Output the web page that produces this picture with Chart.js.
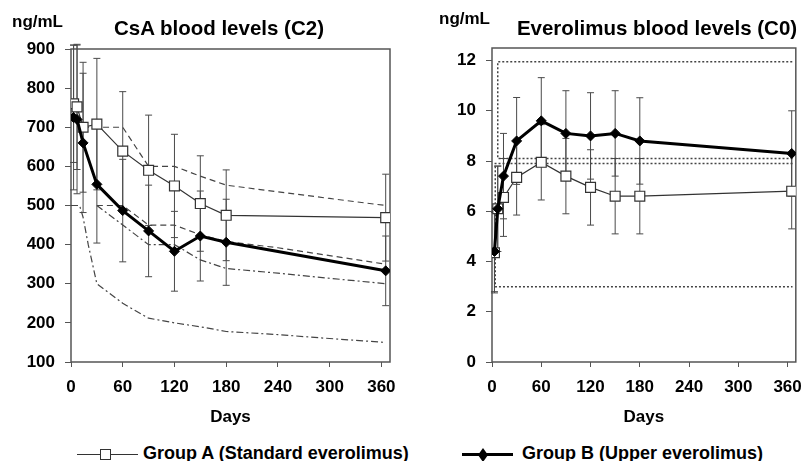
<!DOCTYPE html>
<html>
<head>
<meta charset="utf-8">
<script src="https://cdn.jsdelivr.net/npm/chart.js@4.4.1/dist/chart.umd.min.js"></script>
<style>
html, body { margin: 0; padding: 0; background: #fff; overflow: hidden; }
#wrap { position: relative; width: 812px; height: 461px; font-family: "Liberation Sans", Arial, sans-serif; }
.box { position: absolute; top: 0; width: 406px; height: 430px; }
.lbl { position: absolute; font-weight: bold; color: #000; white-space: nowrap; }
</style>
</head>
<body>
<div id="wrap">
  <div class="box" style="left:0"><canvas id="csaChart" width="406" height="430"></canvas></div>
  <div class="box" style="left:406px"><canvas id="everChart" width="406" height="430"></canvas></div>

  <div class="lbl" style="left:69px;top:16px;width:300px;text-align:center;font-size:20.5px;line-height:24px">CsA blood levels (C2)</div>
  <div class="lbl" style="left:507px;top:16px;width:300px;text-align:center;font-size:20.5px;line-height:24px">Everolimus blood levels (C0)</div>
  <div class="lbl" style="left:12px;top:12px;font-size:17px;line-height:20px">ng/mL</div>
  <div class="lbl" style="left:439px;top:9px;font-size:17px;line-height:20px">ng/mL</div>

  <!-- legend -->
  <div style="position:absolute;left:77px;top:454px;width:61px;border-top:1.2px solid #333"></div>
  <div style="position:absolute;left:100px;top:449px;width:9px;height:9px;border:1.2px solid #333;background:#fff"></div>
  <div class="lbl" style="left:143px;top:443px;font-size:18px;line-height:20px">Group A (Standard everolimus)</div>
  <div style="position:absolute;left:462px;top:453px;width:51px;border-top:3px solid #000"></div>
  <div style="position:absolute;left:478px;top:448px;width:10px;height:14px;background:#000;clip-path:polygon(50% 0,100% 50%,50% 100%,0 50%)"></div>
  <div class="lbl" style="left:522px;top:443px;font-size:18px;line-height:20px">Group B (Upper everolimus)</div>
</div>

<script>
Chart.defaults.font.family = '"Liberation Sans", Arial, sans-serif';
Chart.defaults.color = '#000';

// visit days
var days = [3, 7, 14, 30, 60, 90, 120, 150, 180, 365];

// CsA C2 (ng/mL), mean and SD
var csaA = [760, 752, 700, 708, 639, 590, 550, 505, 475, 469];
var csaASd = [150, 160, 166, 168, 152, 141, 132, 122, 116, 111];
var csaB = [725, 720, 660, 554, 487, 435, 383, 422, 406, 333];
var csaBSd = [185, 190, 178, 150, 131, 117, 102, 115, 110, 89];

// CsA target ranges
var csaHiDays = [14, 60, 90, 120, 150, 180, 240, 300, 365];
var csaHiVals = [700, 700, 600, 600, 575, 552, 535, 518, 500];
var csaLoDays = [30, 60, 90, 120, 150, 180, 240, 300, 365];
var csaLoVals = [500, 500, 450, 450, 425, 408, 392, 372, 350];
var csaRedHiDays = [30, 60, 90, 120, 150, 180, 240, 300, 365];
var csaRedHiVals = [500, 450, 400, 400, 361, 339, 327, 314, 300];
var csaRedLoDays = [0, 10, 14, 20, 30, 60, 90, 120, 150, 180, 240, 300, 365];
var csaRedLoVals = [500, 500, 470, 400, 300, 250, 212, 200, 190, 178, 170, 160, 150];

// everolimus C0 (ng/mL), mean and SD
var everA = [4.35, 6.1, 6.55, 7.35, 7.95, 7.4, 6.95, 6.6, 6.6, 6.8];
var everASd = [1.6, 1.7, 1.55, 1.5, 1.5, 1.5, 1.5, 1.5, 1.5, 1.5];
var everB = [4.4, 6.1, 7.4, 8.8, 9.6, 9.1, 9.0, 9.1, 8.8, 8.3];
var everBSd = [1.6, 1.7, 1.7, 1.73, 1.72, 1.7, 1.72, 1.7, 1.72, 1.7];

// everolimus target ranges
var everTargetADays = [366, 4, 4, 366];
var everTargetAVals = [7.9, 7.9, 3.0, 3.0];
var everTargetBDays = [366, 7, 7, 366];
var everTargetBVals = [8.1, 8.1, 11.95, 11.95];

var xTicks = [0, 60, 120, 180, 240, 300, 360];
var csaYTicks = [100, 200, 300, 400, 500, 600, 700, 800, 900];
var everYTicks = [0, 2, 4, 6, 8, 10, 12];

function pts(xs, ys) {
  return xs.map(function (x, i) { return { x: x, y: ys[i] }; });
}

var errorBars = {
  id: 'errorBars',
  beforeDatasetsDraw: function (chart) {
    var ctx = chart.ctx, xs = chart.scales.x, ys = chart.scales.y;
    chart.data.datasets.forEach(function (ds) {
      if (!ds.sd) return;
      ctx.save();
      ctx.strokeStyle = '#4a4a4a';
      ctx.lineWidth = 1;
      ds.data.forEach(function (p, i) {
        var x = xs.getPixelForValue(p.x);
        var top = ys.getPixelForValue(p.y + ds.sd[i]);
        var bot = ys.getPixelForValue(p.y - ds.sd[i]);
        ctx.beginPath();
        ctx.moveTo(x, top); ctx.lineTo(x, bot);
        ctx.moveTo(x - 3.5, top); ctx.lineTo(x + 3.5, top);
        ctx.moveTo(x - 3.5, bot); ctx.lineTo(x + 3.5, bot);
        ctx.stroke();
      });
      ctx.restore();
    });
  }
};

var frame = {
  id: 'frame',
  beforeDatasetsDraw: function (chart) {
    var a = chart.chartArea, ctx = chart.ctx;
    ctx.save();
    ctx.strokeStyle = '#555';
    ctx.lineWidth = 1.5;
    ctx.strokeRect(a.left, a.top, a.right - a.left, a.bottom - a.top);
    ctx.restore();
  }
};

function groupA(vals, sd) {
  return {
    data: pts(days, vals), sd: sd,
    borderColor: '#333', borderWidth: 1.2,
    pointStyle: 'rect', pointRadius: 7, pointBorderWidth: 1.2,
    pointBackgroundColor: '#fff', pointBorderColor: '#333'
  };
}
function groupB(vals, sd) {
  return {
    data: pts(days, vals), sd: sd,
    borderColor: '#000', borderWidth: 3,
    pointStyle: 'rectRot', pointRadius: 5,
    pointBackgroundColor: '#000', pointBorderColor: '#000', pointBorderWidth: 1
  };
}
function refLine(xs, ys, dash, width) {
  return {
    data: pts(xs, ys), borderColor: '#444', borderWidth: width,
    borderDash: dash, pointRadius: 0, tension: 0
  };
}

function makeOptions(yMin, yMax, yTickList, yWidth, pad) {
  return {
    responsive: false,
    animation: false,
    events: [],
    layout: { padding: pad },
    plugins: { legend: { display: false }, tooltip: { enabled: false }, title: { display: false } },
    scales: {
      x: {
        type: 'linear', min: 0, max: 370,
        afterBuildTicks: function (s) { s.ticks = xTicks.map(function (v) { return { value: v }; }); },
        afterFit: function (s) { s.height = 66; },
        ticks: { font: { size: 17, weight: 'bold' }, color: '#000', padding: 10, maxRotation: 0 },
        grid: { drawOnChartArea: false, drawTicks: true, tickLength: 5, color: '#555' },
        border: { display: false },
        title: { display: true, text: 'Days', font: { size: 17, weight: 'bold' }, color: '#000', padding: { top: 0, bottom: 0 } }
      },
      y: {
        min: yMin, max: yMax,
        afterBuildTicks: function (s) { s.ticks = yTickList.map(function (v) { return { value: v }; }); },
        afterFit: function (s) { s.width = yWidth; },
        ticks: { font: { size: 17, weight: 'bold' }, color: '#000', padding: 10 },
        grid: { drawOnChartArea: false, drawTicks: true, tickLength: 6, color: '#555' },
        border: { display: false }
      }
    }
  };
}

new Chart(document.getElementById('csaChart').getContext('2d'), {
  type: 'line',
  data: {
    datasets: [
      groupB(csaB, csaBSd),
      groupA(csaA, csaASd),
      refLine(csaHiDays, csaHiVals, [6, 4], 1.2),
      refLine(csaLoDays, csaLoVals, [6, 4], 1.2),
      refLine(csaRedHiDays, csaRedHiVals, [7, 3, 2, 3], 1.2),
      refLine(csaRedLoDays, csaRedLoVals, [7, 3, 2, 3], 1.2)
    ]
  },
  options: makeOptions(100, 900, csaYTicks, 71, { top: 49, right: 16, left: 0, bottom: 2 }),
  plugins: [frame, errorBars]
});

new Chart(document.getElementById('everChart').getContext('2d'), {
  type: 'line',
  data: {
    datasets: [
      groupB(everB, everBSd),
      groupA(everA, everASd),
      refLine(everTargetADays, everTargetAVals, [2, 2], 1.5),
      refLine(everTargetBDays, everTargetBVals, [2, 2], 1.5)
    ]
  },
  options: makeOptions(0, 12.5, everYTicks, 86, { top: 48, right: 6, left: 0, bottom: 2 }),
  plugins: [frame, errorBars]
});
</script>
</body>
</html>
